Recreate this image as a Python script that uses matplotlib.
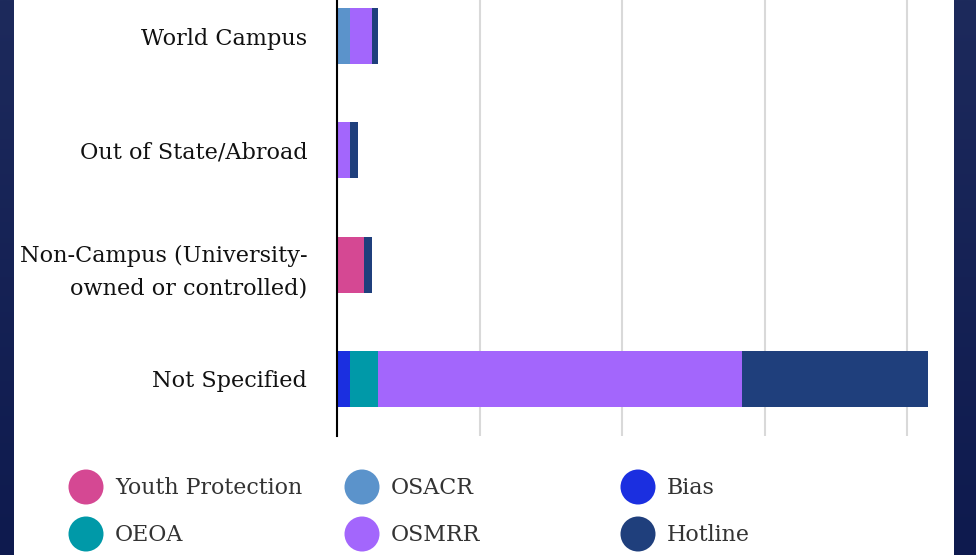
import matplotlib
matplotlib.use("Agg")
import matplotlib.pyplot as plt
import numpy as np
from matplotlib.patches import Rectangle, Ellipse
from matplotlib.colors import LinearSegmentedColormap

# ---- data ----
categories = ["World Campus", "Out of State/Abroad",
              "Non-Campus (University-\nowned or controlled)", "Not Specified"]
series_names = ["Youth Protection", "OSACR", "Bias", "OEOA", "OSMRR", "Hotline"]
youth_protection = [0.0, 0.0, 3.8, 0.0]
osacr = [1.8, 0.0, 0.0, 0.0]
bias = [0.0, 0.0, 0.0, 1.8]
oeoa = [0.0, 0.0, 0.0, 3.9]
osmrr = [3.1, 1.8, 0.0, 51.1]
hotline = [0.85, 1.1, 1.1, 26.1]
series_colors = ["#d54893", "#5b93cb", "#1b2fe0", "#0099a8", "#a366fc", "#1f3f7c"]
x_ticks = [0, 20, 40, 60, 80]

W, H = 976, 555
fig = plt.figure(figsize=(W / 100, H / 100), dpi=100)

# background gradient
bg = fig.add_axes([0, 0, 1, 1], zorder=-10)
grad = np.linspace(0, 1, 256).reshape(-1, 1)
cmap = LinearSegmentedColormap.from_list("bgc", ["#1d2a5c", "#0e1a4e"])
bg.imshow(grad, cmap=cmap, aspect="auto", extent=[0, W, H, 0])
bg.add_patch(Rectangle((14, 0), 954 - 14, H, facecolor="white", edgecolor="none"))
bg.set_xlim(0, W)
bg.set_ylim(H, 0)
bg.axis("off")

# main axes, pixel-based placement
left_px, right_px, top_px, bottom_px = 337, 937, -21, 436
ax = fig.add_axes([left_px / W, (H - bottom_px) / H,
                   (right_px - left_px) / W, (bottom_px - top_px) / H])
ax.set_facecolor("none")

all_series = [youth_protection, osacr, bias, oeoa, osmrr, hotline]
y = np.arange(len(categories))
left = np.zeros(len(categories))
for vals, col, name in zip(all_series, series_colors, series_names):
    v = np.array(vals)
    ax.barh(y, v, left=left, height=0.49, color=col, label=name, zorder=3)
    left += v

px_per_unit = 142.5 / 20
ax.set_xlim(0, (right_px - left_px) / px_per_unit)
ax.set_ylim(3.5, -0.5)
ax.set_xticks(x_ticks)
ax.set_xticklabels([])
ax.tick_params(axis="x", length=0)
ax.grid(axis="x", color="#d9d9d9", linewidth=1.5, zorder=0)
ax.set_yticks(y)
ax.set_yticklabels(categories, fontsize=16.1, family="DejaVu Serif",
                   color="#111111", linespacing=1.58)
ax.tick_params(axis="y", length=0, pad=21.5)
for s in ["top", "right", "bottom"]:
    ax.spines[s].set_visible(False)
ax.spines["left"].set_color("black")
ax.spines["left"].set_linewidth(1.5)
ax.spines["left"].set_zorder(4)

# legend drawn in pixel overlay
ov = fig.add_axes([0, 0, 1, 1], zorder=5)
ov.set_xlim(0, W)
ov.set_ylim(H, 0)
ov.axis("off")
col_x = [86, 362, 638]
row_y = [487, 534]
for i, (name, col) in enumerate(zip(series_names, series_colors)):
    r, c = divmod(i, 3)
    cx, cy = col_x[c], row_y[r]
    ov.add_patch(Ellipse((cx, cy), 35, 35, facecolor=col, edgecolor="none"))
    ov.text(cx + 29, cy + 1, name, fontsize=15.9, family="DejaVu Serif",
            color="#333333", va="center", ha="left")

fig.savefig("out.png", dpi=100)
